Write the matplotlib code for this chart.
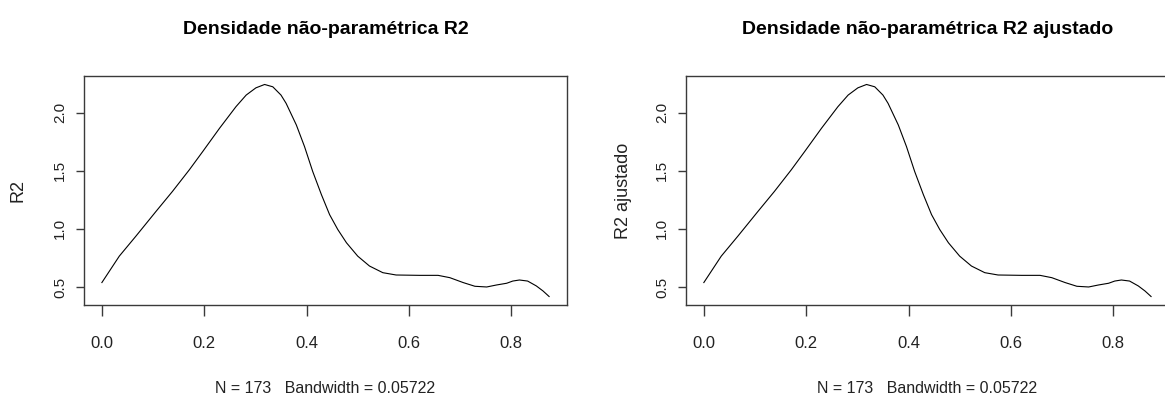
import matplotlib
matplotlib.use("Agg")
import matplotlib.pyplot as plt

# density curve (same estimate in both panels)
r2_x = [0.000, 0.034, 0.0665, 0.106, 0.138, 0.171, 0.197, 0.230, 0.262, 0.282,
        0.301, 0.318, 0.334, 0.350, 0.360, 0.380, 0.396, 0.412, 0.429, 0.445,
        0.461, 0.478, 0.500, 0.523, 0.549, 0.575, 0.621, 0.657, 0.680, 0.706,
        0.729, 0.752, 0.771, 0.791, 0.803, 0.816, 0.832, 0.849, 0.862, 0.874]
r2_density = [0.538, 0.765, 0.937, 1.151, 1.322, 1.508, 1.664, 1.865, 2.050, 2.150,
              2.212, 2.241, 2.221, 2.150, 2.079, 1.893, 1.707, 1.493, 1.294, 1.122,
              0.994, 0.880, 0.765, 0.680, 0.623, 0.603, 0.600, 0.600, 0.580, 0.538,
              0.506, 0.500, 0.517, 0.532, 0.551, 0.560, 0.551, 0.509, 0.466, 0.418]
r2adj_x = r2_x
r2adj_density = r2_density

titles = ["Densidade não-paramétrica R2", "Densidade não-paramétrica R2 ajustado"]
ylabels = ["R2", "R2 ajustado"]
xlabel = "N = 173   Bandwidth = 0.05722"
x_ticks = [0.0, 0.2, 0.4, 0.6, 0.8]
y_ticks = [0.5, 1.0, 1.5, 2.0]

font = ["Liberation Sans", "DejaVu Sans"]

fig = plt.figure(figsize=(11.65, 4.01), dpi=100)
fig.patch.set_facecolor("white")

# second panel is cut off at the right edge of the picture, like the original
positions = [[0.0721, 0.2394, 0.4146, 0.5711],
             [0.5888, 0.2394, 0.4146, 0.5711]]
series = [(r2_x, r2_density), (r2adj_x, r2adj_density)]
ylabel_pads = [19, 17]

for i in range(2):
    ax = fig.add_axes(positions[i])
    xs, ys = series[i]
    ax.plot(xs, ys, color="black", linewidth=0.8)

    # R style 4% padding around the data
    ax.margins(x=0.04, y=0.04)

    for side in ["top", "right", "bottom", "left"]:
        ax.spines[side].set_color("#3a3a3a")
        ax.spines[side].set_linewidth(1.0)

    ax.set_xticks(x_ticks)
    ax.set_xticklabels(["%.1f" % t for t in x_ticks], family=font, fontsize=12)
    ax.set_yticks(y_ticks)
    ax.set_yticklabels(["%.1f" % t for t in y_ticks], family=font, fontsize=11,
                       rotation=90, va="center")
    ax.tick_params(axis="x", length=8, width=1.0, color="#3a3a3a", pad=14, labelcolor="#222222")
    ax.tick_params(axis="y", length=6, width=1.0, color="#3a3a3a", pad=6, labelcolor="#222222")

    ax.set_title(titles[i], family=font, fontsize=14, fontweight="bold", pad=30)
    ax.set_xlabel(xlabel, family=font, fontsize=11.5, labelpad=22, color="#222222")
    ax.set_ylabel(ylabels[i], family=font, fontsize=13, labelpad=ylabel_pads[i], color="#222222")

plt.savefig("out.png", dpi=100)
plt.close()
